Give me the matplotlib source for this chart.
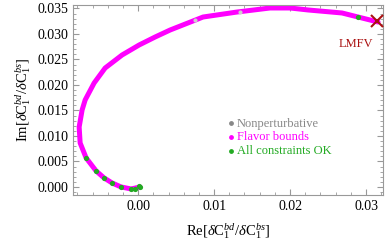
import numpy as np
import matplotlib
matplotlib.use("Agg")
from matplotlib import pyplot as plt
from matplotlib.ticker import MultipleLocator

plt.rcParams["font.family"] = "Liberation Serif"
plt.rcParams["mathtext.fontset"] = "custom"
plt.rcParams["mathtext.rm"] = "Liberation Serif"
plt.rcParams["mathtext.it"] = "Liberation Serif:italic"

# curve (flavor bounds band)
re_curve = [0.00026, -0.00092, -0.00224, -0.00342, -0.00447, -0.00553, -0.00684,
            -0.00763, -0.00776, -0.00737, -0.00697, -0.00579, -0.00434, -0.00211,
            0.00013, 0.00224, 0.00421, 0.00855, 0.01303, 0.01737, 0.02000,
            0.02237, 0.02684, 0.02895, 0.03158]
im_curve = [0.0, -0.00039, 0.0, 0.00078, 0.00176, 0.00314, 0.00569,
            0.00863, 0.01176, 0.01510, 0.01706, 0.02039, 0.02333, 0.02588,
            0.02784, 0.02941, 0.03078, 0.03333, 0.03431, 0.03510, 0.03510,
            0.03471, 0.03412, 0.03333, 0.03235]

# all constraints OK points
re_ok = [0.00026, 0.00013, -0.00040, -0.00092, -0.00224, -0.00342, -0.00447, -0.00553, -0.00684, 0.02895]
im_ok = [0.0, 0.00010, -0.00039, -0.00039, 0.0, 0.00078, 0.00176, 0.00314, 0.00569, 0.03333]

# nonperturbative points
re_np = [0.0075, 0.0134]
im_np = [0.03265, 0.0343]

lmfv = (0.0315, 0.0325)

fig = plt.figure(figsize=(3.85, 2.49), dpi=100)
ax = fig.add_axes([0.19, 0.217, 0.805, 0.763])

ax.plot(re_curve, im_curve, color="#ff00ff", lw=3.6, solid_capstyle="round",
        solid_joinstyle="round", zorder=2)
ax.scatter(re_np, im_np, s=9, color="#cccccc", zorder=3, linewidths=0)
ax.scatter(re_ok, im_ok, s=14, color="#22aa22", zorder=4, linewidths=0)
ax.plot(*lmfv, marker="x", color="#aa1111", ms=9, mew=1.5, zorder=5)
ax.text(0.0287, 0.0280, "LMFV", color="#aa1111", fontsize=9, ha="center", va="center")

# legend
h1 = ax.scatter([], [], s=6, color="#888888")
h2 = ax.scatter([], [], s=6, color="#ff00ff")
h3 = ax.scatter([], [], s=6, color="#22aa22")
leg = ax.legend([h1, h2, h3], ["Nonperturbative", "Flavor bounds", "All constraints OK"],
                loc="upper left", bbox_to_anchor=(0.468, 0.44), frameon=False, fontsize=9,
                handletextpad=0.0, labelspacing=0.15, borderpad=0, handlelength=1.0)
for t, c in zip(leg.get_texts(), ["#888888", "#ff00ff", "#22aa22"]):
    t.set_color(c)

ax.set_xlim(-0.00855, 0.03224)
ax.set_ylim(-0.00157, 0.03569)
ax.xaxis.set_major_locator(MultipleLocator(0.01))
ax.xaxis.set_minor_locator(MultipleLocator(0.002))
ax.yaxis.set_major_locator(MultipleLocator(0.005))
ax.yaxis.set_minor_locator(MultipleLocator(0.001))
ax.xaxis.set_major_formatter(plt.FuncFormatter(lambda v, p: "%.2f" % v))
ax.yaxis.set_major_formatter(plt.FuncFormatter(lambda v, p: "%.3f" % v))
ax.tick_params(which="both", direction="in", top=True, right=True, color="#999999", labelsize=10)
ax.tick_params(which="major", length=4)
ax.tick_params(which="minor", length=2)
for s in ax.spines.values():
    s.set_color("#999999")
    s.set_linewidth(0.8)

ax.set_xlabel(r"$\mathrm{Re}[\delta \mathrm{C}_1^{bd}/\delta \mathrm{C}_1^{bs}]$", fontsize=10.5, labelpad=6)
ax.set_ylabel(r"$\mathrm{Im}[\delta \mathrm{C}_1^{bd}/\delta \mathrm{C}_1^{bs}]$", fontsize=10.5, labelpad=3)

fig.savefig("out.png", dpi=100)
